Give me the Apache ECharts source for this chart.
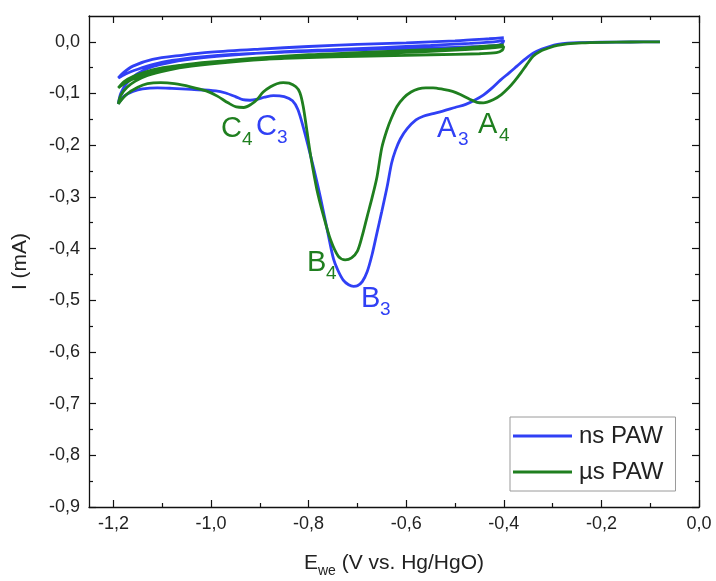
<!DOCTYPE html>
<html>
<head>
<meta charset="utf-8">
<script src="https://cdn.jsdelivr.net/npm/echarts@6/dist/echarts.min.js"></script>
<style>
  html, body { margin: 0; padding: 0; background: #ffffff; }
  #chart { width: 716px; height: 581px; }
</style>
</head>
<body>
<div id="chart"></div>
<script>
// Cyclic voltammograms, potential E (V vs. Hg/HgO) and current I (mA).
// ns PAW: first cathodic scan from open circuit, then cycles between -1.19 V and -0.40 V.
const nsFirstScan = [
  [-0.08, 0.000], [-0.14, -0.0003], [-0.20, -0.0008], [-0.24, -0.0015], [-0.27, -0.0025],
  [-0.29, -0.005], [-0.305, -0.0085], [-0.322, -0.014], [-0.340, -0.022], [-0.357, -0.034],
  [-0.373, -0.047], [-0.389, -0.060], [-0.407, -0.074], [-0.425, -0.090], [-0.442, -0.103],
  [-0.460, -0.113], [-0.478, -0.121], [-0.500, -0.127], [-0.525, -0.134], [-0.545, -0.139],
  [-0.565, -0.144], [-0.580, -0.151], [-0.598, -0.168], [-0.612, -0.188], [-0.622, -0.210],
  [-0.630, -0.235], [-0.639, -0.280], [-0.650, -0.328], [-0.660, -0.370], [-0.670, -0.412],
  [-0.680, -0.445], [-0.690, -0.464], [-0.700, -0.472], [-0.708, -0.473], [-0.718, -0.470],
  [-0.729, -0.461], [-0.740, -0.442], [-0.749, -0.420], [-0.760, -0.372], [-0.776, -0.300],
  [-0.790, -0.243], [-0.800, -0.205], [-0.811, -0.165], [-0.822, -0.131], [-0.833, -0.114],
  [-0.850, -0.106], [-0.872, -0.104], [-0.890, -0.107], [-0.905, -0.111], [-0.920, -0.113],
  [-0.935, -0.112], [-0.950, -0.106], [-0.970, -0.099], [-0.990, -0.095], [-1.040, -0.092],
  [-1.080, -0.090], [-1.110, -0.089], [-1.140, -0.091], [-1.160, -0.096], [-1.178, -0.105],
  [-1.190, -0.120]
];
const nsReturnScan1 = [
  [-1.190, -0.120], [-1.185, -0.100], [-1.175, -0.083], [-1.160, -0.068], [-1.140, -0.056],
  [-1.120, -0.048], [-1.080, -0.039], [-1.020, -0.031], [-0.950, -0.025], [-0.850, -0.019],
  [-0.750, -0.015], [-0.650, -0.011], [-0.550, -0.007], [-0.470, -0.003], [-0.420, 0.000],
  [-0.400, 0.003]
];
const nsCathodicScan2 = [
  [-0.400, 0.003], [-0.403, -0.003], [-0.415, -0.007], [-0.450, -0.009], [-0.550, -0.012],
  [-0.650, -0.014], [-0.750, -0.017], [-0.850, -0.020], [-0.950, -0.024], [-1.020, -0.029],
  [-1.080, -0.036], [-1.120, -0.044], [-1.150, -0.053], [-1.175, -0.062], [-1.190, -0.070]
];
const nsReturnScan2 = [
  [-1.190, -0.070], [-1.180, -0.060], [-1.160, -0.047], [-1.120, -0.034], [-1.060, -0.026],
  [-1.000, -0.020], [-0.900, -0.014], [-0.800, -0.009], [-0.700, -0.005], [-0.600, -0.002],
  [-0.500, 0.002], [-0.430, 0.006], [-0.400, 0.008]
];

// µs PAW: same scan programme.
const usFirstScan = [
  [-0.08, 0.000], [-0.14, -0.0003], [-0.20, -0.001], [-0.24, -0.002], [-0.27, -0.004],
  [-0.29, -0.007], [-0.305, -0.011], [-0.325, -0.018], [-0.340, -0.028], [-0.353, -0.044],
  [-0.365, -0.060], [-0.378, -0.076], [-0.390, -0.089], [-0.405, -0.102], [-0.420, -0.111],
  [-0.442, -0.118], [-0.455, -0.117], [-0.470, -0.111], [-0.489, -0.102], [-0.505, -0.096],
  [-0.524, -0.092], [-0.545, -0.089], [-0.560, -0.089], [-0.575, -0.091], [-0.590, -0.097],
  [-0.605, -0.108], [-0.619, -0.125], [-0.630, -0.147], [-0.640, -0.172], [-0.650, -0.205],
  [-0.660, -0.262], [-0.670, -0.302], [-0.680, -0.338], [-0.690, -0.375], [-0.700, -0.405],
  [-0.712, -0.418], [-0.725, -0.422], [-0.739, -0.415], [-0.755, -0.383], [-0.770, -0.335],
  [-0.783, -0.286], [-0.795, -0.225], [-0.803, -0.175], [-0.811, -0.125], [-0.818, -0.098],
  [-0.826, -0.087], [-0.840, -0.080], [-0.852, -0.079], [-0.865, -0.081], [-0.878, -0.087],
  [-0.893, -0.097], [-0.905, -0.111], [-0.918, -0.121], [-0.933, -0.127], [-0.948, -0.126],
  [-0.965, -0.118], [-0.987, -0.105], [-1.010, -0.095], [-1.042, -0.087], [-1.075, -0.081],
  [-1.103, -0.079], [-1.130, -0.081], [-1.150, -0.088], [-1.172, -0.101], [-1.190, -0.120]
];
const usReturnScan1 = [
  [-1.190, -0.120], [-1.185, -0.104], [-1.172, -0.088], [-1.155, -0.076], [-1.130, -0.065],
  [-1.090, -0.055], [-1.040, -0.047], [-0.960, -0.039], [-0.860, -0.032], [-0.760, -0.027],
  [-0.660, -0.023], [-0.560, -0.019], [-0.480, -0.015], [-0.430, -0.012], [-0.400, -0.009]
];
const usCathodicScan2 = [
  [-0.400, -0.009], [-0.403, -0.016], [-0.415, -0.021], [-0.450, -0.023], [-0.550, -0.025],
  [-0.650, -0.027], [-0.750, -0.029], [-0.850, -0.032], [-0.950, -0.036], [-1.020, -0.041],
  [-1.080, -0.049], [-1.120, -0.058], [-1.150, -0.068], [-1.175, -0.079], [-1.190, -0.089]
];
const usReturnScan2 = [
  [-1.190, -0.089], [-1.178, -0.077], [-1.160, -0.067], [-1.120, -0.054], [-1.060, -0.045],
  [-1.000, -0.039], [-0.900, -0.031], [-0.800, -0.025], [-0.700, -0.021], [-0.600, -0.017],
  [-0.500, -0.013], [-0.430, -0.008], [-0.400, -0.006]
];

// Axis ticks
const xMajorTicks = [-1.2, -1.0, -0.8, -0.6, -0.4, -0.2, 0.0];
const xMinorTicks = [-1.1, -0.9, -0.7, -0.5, -0.3, -0.1];
const yMajorTicks = [-0.9, -0.8, -0.7, -0.6, -0.5, -0.4, -0.3, -0.2, -0.1, 0.0];
const yMinorTicks = [-0.85, -0.75, -0.65, -0.55, -0.45, -0.35, -0.25, -0.15, -0.05];

const seriesNames = ['ns PAW', 'µs PAW'];
const seriesColors = ['#3040f5', '#1f7f1f'];

// Peak annotations: letter, subscript, colour index, position (px)
const peakLabels = [
  { letter: 'C', sub: '4', c: 1, x: 221, y: 114 },
  { letter: 'C', sub: '3', c: 0, x: 256, y: 112 },
  { letter: 'A', sub: '3', c: 0, x: 437, y: 114 },
  { letter: 'A', sub: '4', c: 1, x: 478, y: 110 },
  { letter: 'B', sub: '4', c: 1, x: 307, y: 248 },
  { letter: 'B', sub: '3', c: 0, x: 361, y: 284 }
];

const FONT = '"Liberation Sans", Arial, Helvetica, sans-serif';
const fmt = v => Number(v).toFixed(1).replace('.', ',');

const X_MIN = -1.25, X_MAX = 0.0, Y_MIN = -0.9, Y_MAX = 0.05;
const frameLine = { show: true, onZero: false, lineStyle: { color: '#111', width: 1.3 } };
const noLine = { show: false, onZero: false };

function xAxisDef(position, ticks, len, withLabels, withLine) {
  return {
    type: 'value', min: X_MIN, max: X_MAX, position: position,
    axisLine: withLine ? frameLine : noLine,
    axisTick: { show: true, inside: true, length: len, customValues: ticks,
                lineStyle: { color: '#111', width: 1.2 } },
    axisLabel: withLabels ? { show: true, customValues: ticks, formatter: fmt,
                fontSize: 18, fontFamily: FONT, color: '#222', margin: 8 } : { show: false },
    splitLine: { show: false }
  };
}
function yAxisDef(position, ticks, len, withLabels, withLine) {
  return {
    type: 'value', min: Y_MIN, max: Y_MAX, position: position,
    axisLine: withLine ? frameLine : noLine,
    axisTick: { show: true, inside: true, length: len, customValues: ticks,
                lineStyle: { color: '#111', width: 1.2 } },
    axisLabel: withLabels ? { show: true, customValues: ticks, formatter: fmt,
                fontSize: 18, fontFamily: FONT, color: '#222', margin: 9 } : { show: false },
    splitLine: { show: false }
  };
}

const xMain = xAxisDef('bottom', xMajorTicks, 7, true, true);
xMain.name = '{e|E}{s|we}{e| (V vs. Hg/HgO)}';
xMain.nameLocation = 'middle';
xMain.nameGap = 41;
xMain.nameTextStyle = {
  rich: {
    e: { fontSize: 21, fontFamily: FONT, color: '#222', lineHeight: 30, verticalAlign: 'middle' },
    s: { fontSize: 14, fontFamily: FONT, color: '#222', lineHeight: 14, verticalAlign: 'bottom' }
  }
};

const yMain = yAxisDef('left', yMajorTicks, 7, true, true);
yMain.name = 'I (mA)';
yMain.nameLocation = 'middle';
yMain.nameGap = 58;
yMain.nameTextStyle = { fontSize: 21, fontFamily: FONT, color: '#222' };

const chart = echarts.init(document.getElementById('chart'), null, { renderer: 'canvas' });

const graphics = [];
peakLabels.forEach(p => {
  graphics.push({
    type: 'text', left: p.x, top: p.y, z: 100,
    style: { text: p.letter, fontSize: 29, fontFamily: FONT, fill: seriesColors[p.c] }
  });
  graphics.push({
    type: 'text', left: p.x + (p.letter === 'B' ? 19 : 21), top: p.y + 16, z: 100,
    style: { text: p.sub, fontSize: 19, fontFamily: FONT, fill: seriesColors[p.c] }
  });
});

chart.setOption({
  backgroundColor: '#ffffff',
  animation: false,
  grid: { left: 89, right: 17, top: 16, bottom: 74, containLabel: false, outerBoundsMode: 'none' },
  xAxis: [
    xMain,
    xAxisDef('bottom', xMinorTicks, 4, false, false),
    xAxisDef('top', xMajorTicks, 7, false, true),
    xAxisDef('top', xMinorTicks, 4, false, false)
  ],
  yAxis: [
    yMain,
    yAxisDef('left', yMinorTicks, 4, false, false),
    yAxisDef('right', yMajorTicks, 7, false, true),
    yAxisDef('right', yMinorTicks, 4, false, false)
  ],
  legend: {
    data: seriesNames,
    orient: 'vertical',
    left: 510, top: 417,
    padding: [7, 12, 7, 3],
    itemGap: 12,
    itemWidth: 59, itemHeight: 3,
    icon: 'rect',
    borderColor: '#9a9a9a', borderWidth: 1,
    textStyle: { fontSize: 24, fontFamily: FONT, color: '#222', padding: [0, 0, 0, 2] }
  },
  series: [
    {
      name: seriesNames[0], type: 'line', xAxisIndex: 0, yAxisIndex: 0,
      data: nsFirstScan.concat(nsReturnScan1, nsCathodicScan2, nsReturnScan2),
      showSymbol: false, smooth: 0.3, clip: true,
      lineStyle: { color: seriesColors[0], width: 2.8 },
      itemStyle: { color: seriesColors[0] }
    },
    {
      name: seriesNames[1], type: 'line', xAxisIndex: 0, yAxisIndex: 0,
      data: usFirstScan.concat(usReturnScan1, usCathodicScan2, usReturnScan2),
      showSymbol: false, smooth: 0.3, clip: true,
      lineStyle: { color: seriesColors[1], width: 2.8 },
      itemStyle: { color: seriesColors[1] }
    }
  ],
  graphic: graphics
});
</script>
</body>
</html>
